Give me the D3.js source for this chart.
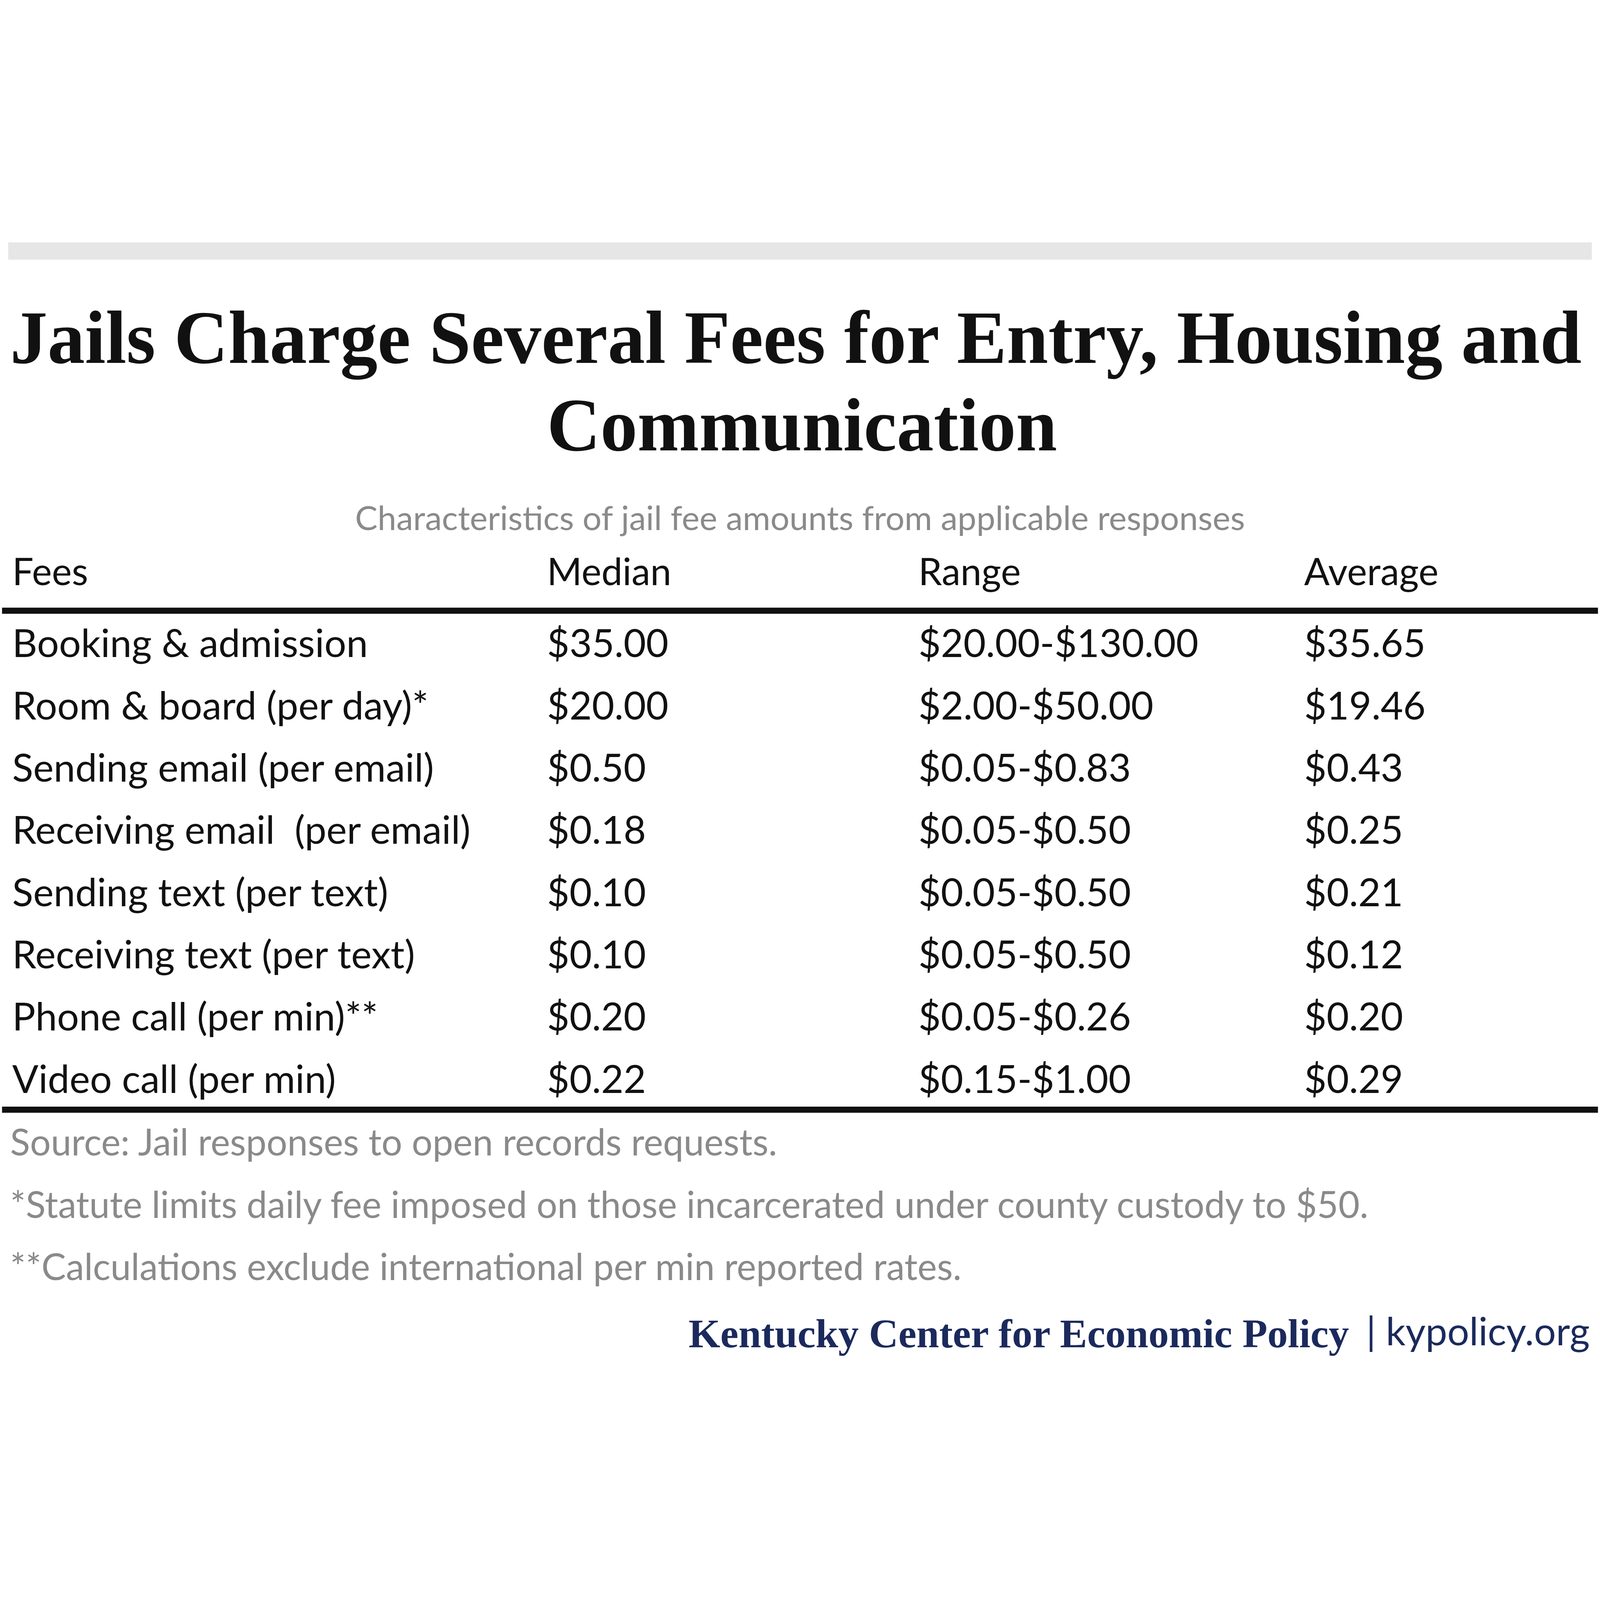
<!DOCTYPE html>
<html><head><meta charset="utf-8">
<script src="https://cdn.jsdelivr.net/npm/d3@7"></script>
<style>html,body{margin:0;padding:0;width:100%;height:100%;overflow:hidden;background:#fff}svg{display:block}</style>
</head><body>
<script>
const columns = ['Fees', 'Median', 'Range', 'Average']
const fees = ['Booking & admission', 'Room & board (per day)*', 'Sending email (per email)', 'Receiving email  (per email)', 'Sending text (per text)', 'Receiving text (per text)', 'Phone call (per min)**', 'Video call (per min)']
const medians = ['$35.00', '$20.00', '$0.50', '$0.18', '$0.10', '$0.10', '$0.20', '$0.22']
const ranges = ['$20.00-$130.00', '$2.00-$50.00', '$0.05-$0.83', '$0.05-$0.50', '$0.05-$0.50', '$0.05-$0.50', '$0.05-$0.26', '$0.15-$1.00']
const averages = ['$35.65', '$19.46', '$0.43', '$0.25', '$0.21', '$0.12', '$0.20', '$0.29']
const notes = ['Source: Jail responses to open records requests.', '*Statute limits daily fee imposed on those incarcerated under county custody to $50.', '**Calculations exclude international per min reported rates.']

const W = 1568, H = 1101
const svg = d3.select('body').append('svg')
  .attr('width', '100%').attr('height', '100%')
  .attr('viewBox', `0 0 ${W} ${H}`)
  .attr('preserveAspectRatio', 'xMidYMid meet')
const sans = 'Lato, "Open Sans", sans-serif'
const serif = '"Liberation Serif", "DejaVu Serif", serif'

svg.append('rect').attr('x', 8).attr('y', 4).attr('width', 1552).attr('height', 17).attr('fill', '#e6e6e6')

svg.append('text').attr('x', 10).attr('y', 122).attr('textLength', 1540).attr('lengthAdjust', 'spacingAndGlyphs')
  .attr('font-family', serif).attr('font-weight', 'bold').attr('font-size', 74).attr('fill', '#111')
  .text('Jails Charge Several Fees for Entry, Housing and')
svg.append('text').attr('x', 536).attr('y', 208).attr('textLength', 500).attr('lengthAdjust', 'spacingAndGlyphs')
  .attr('font-family', serif).attr('font-weight', 'bold').attr('font-size', 74).attr('fill', '#111')
  .text('Communication')

svg.append('text').attr('x', 784).attr('y', 286).attr('text-anchor', 'middle')
  .attr('font-family', sans).attr('font-size', 33).attr('fill', '#8a8a8a')
  .text('Characteristics of jail fee amounts from applicable responses')

const x = d3.scaleOrdinal().domain(columns).range([12, 536, 900, 1278])
svg.selectAll('.hdr').data(columns).join('text')
  .attr('x', d => x(d)).attr('y', 340)
  .attr('font-family', sans).attr('font-size', 37).attr('fill', '#111').text(d => d)

const y = d3.scaleBand().domain(fees).range([367, 855])
const rows = fees.map((f, i) => [f, medians[i], ranges[i], averages[i]])
const g = svg.selectAll('.row').data(rows).join('g')
  .attr('transform', d => `translate(0,${y(d[0]) + y.bandwidth() / 2 + 13})`)
g.selectAll('text').data(d => d).join('text')
  .attr('x', (d, i) => x(columns[i])).attr('xml:space', 'preserve')
  .attr('font-family', sans).attr('font-size', 38).attr('fill', '#111').text(d => d)

svg.append('rect').attr('x', 2).attr('y', 362).attr('width', 1564).attr('height', 6).attr('fill', '#111')
svg.append('rect').attr('x', 2).attr('y', 851).attr('width', 1564).attr('height', 6).attr('fill', '#111')

svg.selectAll('.note').data(notes).join('text')
  .attr('x', 10).attr('y', (d, i) => 899 + i * 61)
  .attr('font-family', sans).attr('font-size', 36).attr('fill', '#8a8a8a').text(d => d)

svg.append('text').attr('x', 1322).attr('y', 1087).attr('text-anchor', 'end')
  .attr('font-family', serif).attr('font-weight', 'bold').attr('font-size', 40).attr('fill', '#1b2a5c')
  .text('Kentucky Center for Economic Policy')
svg.append('text').attr('x', 1558).attr('y', 1085).attr('text-anchor', 'end')
  .attr('font-family', sans).attr('font-size', 38).attr('fill', '#1b2a5c')
  .text('| kypolicy.org')
</script>
</body></html>
